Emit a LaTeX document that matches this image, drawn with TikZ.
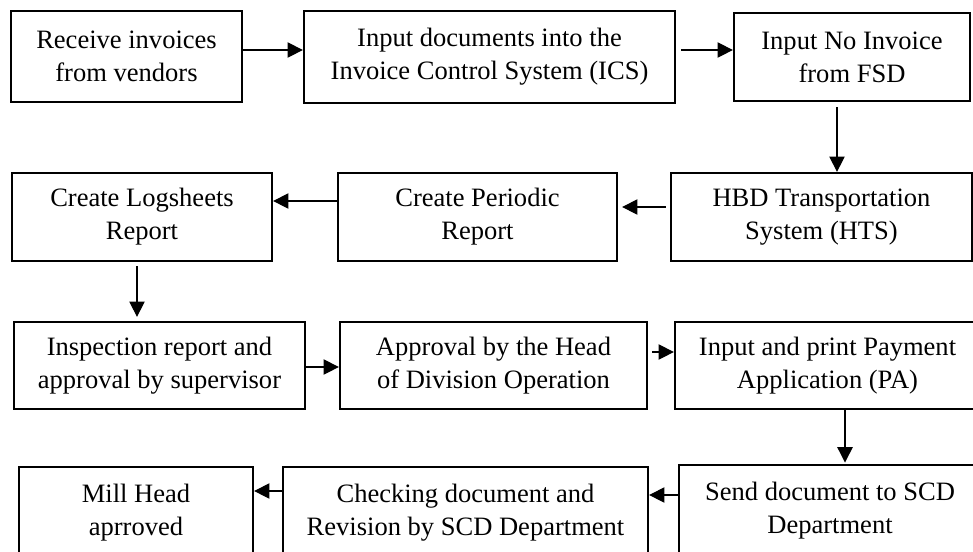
\documentclass[tikz,border=0pt]{standalone}
\usepackage{fontspec}
\setmainfont{Liberation Serif}
\usetikzlibrary{arrows.meta}
\tikzset{
  box/.style={draw=black, line width=1.7pt, align=center, inner sep=0pt,
    font=\fontsize{19.9pt}{24.75pt}\selectfont},
  arr/.style={draw=black, line width=0.9pt, -{Triangle[length=11.5pt,width=11.5pt]}}
}
\begin{document}
\begin{tikzpicture}[x=0.75pt,y=-0.75pt]
\useasboundingbox (0,0) rectangle (973,551);
\clip (0,0) rectangle (973,551);
% Row 1
\node[box, minimum width=173.25pt, minimum height=68.25pt] (A) at (126.5,56.5) {Receive invoices\\from vendors};
\node[box, minimum width=278.25pt, minimum height=69pt] (B) at (489.5,57) {Input documents into the\\Invoice Control System (ICS)};
\node[box, minimum width=177pt, minimum height=66pt] (C) at (852,57) {Input No Invoice\\from FSD};
% Row 2
\node[box, minimum width=225.75pt, minimum height=66pt] (D) at (821.5,217) {HBD Transportation\\System (HTS)};
\node[box, minimum width=209.25pt, minimum height=66pt] (E) at (477.5,217) {Create Periodic\\Report};
\node[box, minimum width=195pt, minimum height=66pt] (F) at (142,217) {Create Logsheets\\Report};
% Row 3
\node[box, minimum width=218.25pt, minimum height=65.25pt] (G) at (159.5,365.5) {Inspection report and\\approval by supervisor};
\node[box, minimum width=230.25pt, minimum height=65.25pt] (H) at (493.5,365.5) {Approval by the Head\\of Division Operation};
\node[box, minimum width=228.75pt, minimum height=65.25pt] (I) at (827.5,365.5) {Input and print Payment\\Application (PA)};
% Row 4
\node[box, minimum width=226.5pt, minimum height=68.25pt] (J) at (830,510.5) {Send document to SCD\\Department};
\node[box, minimum width=273.75pt, minimum height=68.25pt] (K) at (465.5,512.5) {Checking document and\\Revision by SCD Department};
\node[box, minimum width=175.5pt, minimum height=68.25pt] (L) at (136,512.5) {Mill Head\\aprroved};
% Connectors
\draw[arr] (A.east |- 0,50) -- (B.west |- 0,50);
\draw[arr] ([xshift=3.75pt]B.east |- 0,50) -- (C.west |- 0,50);
\draw[arr] ([yshift=-3.75pt]C.south -| 837,0) -- (D.north -| 837,0);
\draw[arr] ([xshift=-3pt]D.west |- 0,207) -- ([xshift=3pt]E.east |- 0,207);
\draw[arr] (E.west |- 0,201) -- (F.east |- 0,201);
\draw[arr] ([yshift=-3pt]F.south -| 137,0) -- ([yshift=3pt]G.north -| 137,0);
\draw[arr] (G.east |- 0,367) -- (H.west |- 0,367);
\draw[arr] ([xshift=3pt]H.east |- 0,352) -- (I.west |- 0,352);
\draw[arr] (I.south -| 845,0) -- ([yshift=1pt]J.north -| 845,0);
\draw[arr] (J.west |- 0,495) -- (K.east |- 0,495);
\draw[arr] (K.west |- 0,491) -- (L.east |- 0,491);
\end{tikzpicture}
\end{document}
